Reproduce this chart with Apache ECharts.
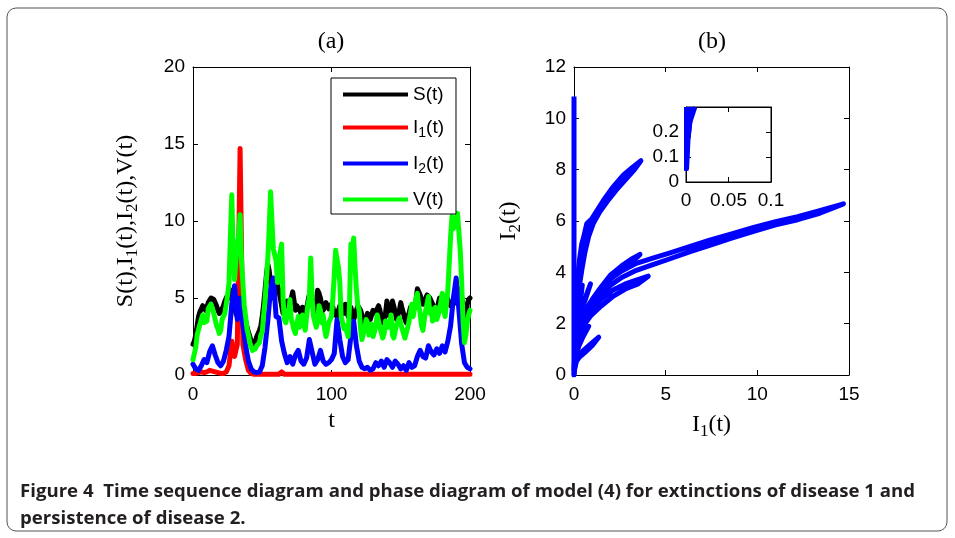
<!DOCTYPE html>
<html><head><meta charset="utf-8">
<script src="https://cdn.jsdelivr.net/npm/echarts@6.0.0/dist/echarts.min.js"></script>
<style>html,body{margin:0;padding:0;background:#fff}#c{width:955px;height:538px}</style>
</head><body><div id="c"></div>
<script>
// ---------- DATA ----------
// S and V sampled every 1 time unit, I1 and I2 every 2 time units (t = 0..200)
const fineStep = 1, coarseStep = 2, timeEnd = 200;
const S_values = [2.0,2.2,2.6,3.2,3.8,4.1,4.3,4.5,4.6,4.2,
4.4,4.7,4.8,5.0,5.1,4.9,4.8,4.5,4.2,4.0,
4.0,4.3,4.5,4.8,4.9,5.2,5.0,5.3,5.5,5.0,
4.5,4.0,3.8,4.5,5.0,4.8,4.6,4.0,3.5,3.1,
2.8,2.5,2.2,2.1,2.0,2.2,2.5,2.7,2.9,3.2,
3.8,4.6,5.5,6.5,7.2,6.8,6.0,5.4,5.0,5.6,
6.2,5.8,5.5,5.0,4.5,4.0,4.3,4.6,4.8,4.4,
4.5,5.0,5.4,4.8,4.2,4.5,4.6,4.2,4.0,4.4,
4.4,4.0,4.3,4.8,5.2,5.0,4.8,4.3,4.0,4.7,
5.5,5.3,5.0,4.5,4.2,4.4,4.7,4.5,4.3,4.2,
4.6,4.4,4.0,3.9,3.8,4.2,4.5,4.6,4.3,4.0,
4.6,4.3,3.8,4.0,4.4,4.0,3.6,3.9,4.2,4.5,
4.4,4.2,3.9,3.5,3.2,3.6,4.0,3.8,3.6,3.9,
4.2,4.1,4.0,4.3,4.5,4.2,3.7,3.4,3.6,4.0,
4.8,4.2,3.8,4.3,4.8,4.9,4.1,3.6,3.6,4.2,
4.7,4.3,4.0,3.6,3.4,3.8,4.0,4.4,4.4,4.1,
4.0,4.8,5.6,5.7,5.2,4.8,4.6,4.8,5.0,5.2,
5.3,5.0,4.8,4.6,4.4,4.3,4.2,4.6,5.0,5.1,
5.0,4.6,4.8,5.1,4.9,4.7,4.5,4.4,4.6,5.0,
5.0,4.7,4.9,5.6,5.6,4.5,3.0,3.6,4.6,4.9,
5.0];
const V_values = [1.0,1.4,1.8,2.6,2.5,3.3,3.6,3.9,3.4,3.5,
3.5,4.3,4.2,4.6,4.5,4.0,4.1,3.2,3.0,2.7,
2.9,3.6,3.5,4.0,3.9,5.2,6.0,9.0,11.7,8.0,
6.2,7.5,8.5,9.0,10.4,7.5,6.0,4.5,3.8,3.0,
2.6,2.1,1.8,1.6,1.5,1.7,1.9,2.0,2.1,2.6,
2.8,3.9,4.8,6.2,7.5,9.5,11.9,10.0,8.2,7.8,
7.4,6.0,7.0,8.0,8.5,5.0,3.6,3.4,4.2,3.8,
4.9,3.6,3.3,2.9,2.7,3.3,3.8,3.1,3.2,3.9,
3.5,2.9,3.8,4.6,5.0,7.6,5.0,3.8,3.8,3.1,
3.5,4.5,4.2,3.4,3.9,3.0,2.5,2.9,3.4,3.6,
3.8,5.0,6.5,8.1,7.5,7.0,6.0,3.8,3.8,3.0,
3.2,2.8,2.5,4.5,8.5,8.0,8.9,7.0,5.5,4.5,
4.2,3.0,2.3,2.7,3.0,3.6,3.4,2.6,2.8,3.3,
2.5,2.8,3.2,3.9,3.8,3.1,3.0,2.4,2.7,3.5,
3.6,3.1,3.4,3.9,2.6,2.4,2.5,3.3,3.2,3.7,
3.8,3.0,3.0,2.4,2.5,3.1,3.5,4.0,4.6,3.8,
4.4,5.0,5.3,4.5,4.0,3.2,2.9,3.6,4.2,4.6,
5.1,4.0,4.3,3.5,4.0,4.4,3.6,3.9,4.2,4.8,
5.3,4.2,3.8,4.6,5.5,5.6,9.0,10.3,9.5,9.8,
9.8,10.5,10.5,8.0,6.0,3.5,2.1,2.6,3.4,3.9,
4.2];
const I1_values = [0.1,0.1,0.15,0.2,0.15,0.2,0.3,0.25,0.2,0.15,0.1,0.1,0.2,0.6,2.2,1.2,2.0,14.7,2.0,1.0,0.3,0.1,0.05,0.05,0.05,0.05,0.05,0.05,0.05,0.05,0.05,0.05,0.2,0.05,0.05,0.05,0.05,0.05,0.05,0.05,0.05,0.05,0.05,0.05,0.05,0.05,0.05,0.05,0.05,0.05,0.05,0.05,0.05,0.05,0.05,0.05,0.05,0.05,0.05,0.05,0.05,0.05,0.05,0.05,0.05,0.05,0.05,0.05,0.05,0.05,0.05,0.05,0.05,0.05,0.05,0.05,0.05,0.05,0.05,0.05,0.05,0.05,0.05,0.05,0.05,0.05,0.05,0.05,0.05,0.05,0.05,0.05,0.05,0.05,0.05,0.05,0.05,0.05,0.05,0.05,0.05];
const I2_values = [0.7,0.4,0.3,0.6,1.0,0.8,1.5,1.9,1.3,0.8,0.6,0.9,1.6,2.5,4.6,5.8,3.6,5.0,3.3,1.9,0.9,0.4,0.2,0.15,0.2,0.6,1.8,3.5,5.6,6.3,3.8,3.7,2.2,1.4,0.8,1.2,0.7,1.3,1.6,0.9,0.7,1.1,2.3,1.5,0.7,1.0,1.6,0.9,0.7,0.8,1.0,1.4,3.6,2.3,1.2,0.8,1.0,2.5,3.5,1.9,0.9,0.5,0.4,0.5,0.3,0.4,0.8,0.6,0.9,0.5,1.0,0.8,0.5,0.9,0.7,0.4,0.6,0.3,0.8,0.5,0.6,1.2,1.6,1.2,1.1,1.9,1.5,1.3,1.7,1.4,1.9,1.5,2.2,3.2,5.0,6.3,4.2,2.0,0.8,0.5,0.4];

// phase diagram I1 vs I2 (trajectory pieces)
const phaseAxisLine = [[0,0],[0,10.85]];
const phaseUpper = [[0.02,2.2],[0.1,3.0],[0.2,3.8],[0.3,4.5],[0.42,5.1],[0.6,5.55],[0.85,5.95],[1.2,6.35],[1.6,6.8],[2.1,7.3],[2.7,7.8],[3.2,8.1],[3.65,8.35],[3.3,8.0],[2.8,7.6],[2.3,7.2],[1.8,6.75],[1.4,6.35],[1.05,5.9],[0.8,5.4],[0.6,4.8],[0.45,4.2],[0.3,3.5],[0.15,2.7],[0.05,2.0],[0.15,3.3],[0.3,4.3],[0.5,5.3],[0.7,5.9],[1.0,6.1],[1.4,6.5],[1.9,7.0],[2.4,7.5],[2.0,7.05],[1.5,6.55],[1.1,6.15],[0.7,5.6],[0.5,4.9],[0.35,3.9],[0.2,3.0],[0.05,1.6]];
const phaseLower = [[0.05,1.0],[0.2,1.6],[0.45,2.1],[0.75,2.55],[1.1,2.95],[1.5,3.35],[2.0,3.75],[2.6,4.05],[3.4,4.35],[4.3,4.55],[5.2,4.75],[6.3,5.0],[7.4,5.25],[8.6,5.5],[9.8,5.75],[11.0,5.97],[12.2,6.17],[13.4,6.4],[14.7,6.67],[13.4,6.3],[12.2,6.05],[11.0,5.85],[9.8,5.6],[8.6,5.33],[7.4,5.05],[6.3,4.8],[5.2,4.52],[4.3,4.3],[3.4,4.08],[2.6,3.8],[2.0,3.5],[1.5,3.1],[1.0,2.65],[0.6,2.2],[0.3,1.6],[0.08,0.8]];
const phaseLoopA = [[0.1,1.8],[0.5,2.4],[1.0,2.95],[1.5,3.45],[2.0,3.9],[2.6,4.25],[3.1,4.5],[3.6,4.7],[3.1,4.35],[2.5,4.05],[1.9,3.7],[1.4,3.3],[0.9,2.8],[0.4,2.2],[0.1,1.4]];
const phaseLoopB = [[0.2,2.0],[0.8,2.5],[1.4,2.9],[2.1,3.3],[2.8,3.55],[3.4,3.7],[4.05,3.85],[3.5,3.55],[2.8,3.35],[2.1,3.05],[1.5,2.7],[0.9,2.3],[0.3,1.7]];
const phaseSpikes = [[0.1,2.4],[0.4,2.6],[0.9,3.55],[0.6,2.9],[0.2,2.2]];
const phaseSmall = [[0.05,0.3],[0.2,0.7],[0.5,0.95],[0.9,1.2],[1.35,1.47],[1.0,1.15],[0.6,0.88],[0.3,0.7],[0.1,0.5]];
const phaseFan = [[0,0],[0.1,0.6],[0.25,1.1],[0.5,1.5],[0.8,1.9],[0.5,1.7],[0.2,1.3],[0.05,0.9],[0.0,0.2],[0.15,1.5],[0.3,2.5],[0.45,3.5],[0.3,3.0],[0.15,2.2],[0.05,1.2]];

// inset (zoom near origin)
const insetEdge0 = [[0,0.045],[0,0.3]];
const insetEdge1 = [[0.0006,0.045],[0.002,0.15],[0.004,0.3]];
const insetEdge2 = [[0.0012,0.05],[0.003,0.175],[0.0051,0.24],[0.0075,0.3]];
const insetEdge3 = [[0.003,0.175],[0.0051,0.24],[0.011,0.3]];

const seriesNames = ['S(t)','I1(t)','I2(t)','V(t)'];
const seriesColors = ['#000000','#ff0000','#0000ff','#00ff00'];
const captionLine1 = 'Figure 4  Time sequence diagram and phase diagram of model (4) for extinctions of disease 1 and';
const captionLine2 = 'persistence of disease 2.';

// ---------- BUILD ----------
const timesOf = step => { const a = []; for (let t = 0; t <= timeEnd; t += step) a.push(t); return a; };
const fineTimes = timesOf(fineStep), coarseTimes = timesOf(coarseStep);
const pair = (ts, vals) => vals.map((v, i) => [ts[i], v]);

const SANS = 'Liberation Sans', SERIF = 'Liberation Serif';
const tickFont = {fontFamily: SANS, fontSize: 19, color: '#000'};
function axisBase(extra) {
  return Object.assign({
    type: 'value',
    axisLine: {show: true, onZero: false, lineStyle: {color: '#000', width: 1}},
    axisTick: {show: true, inside: true, length: 5, lineStyle: {color: '#000'}},
    splitLine: {show: false},
    axisLabel: Object.assign({show: true}, tickFont)
  }, extra);
}
function mirror(extra) {
  return axisBase(Object.assign({axisLabel: {show: false}}, extra));
}
const subRich = {
  m: {fontFamily: SERIF, fontSize: 24, color: '#000'},
  s: {fontFamily: SERIF, fontSize: 17, color: '#000', padding: [14, 0, 0, 0], verticalAlign: 'top'}
};

const ctx = document.createElement('canvas').getContext('2d');
const capFont = 'bold 17px "Open Sans"';
ctx.font = capFont;
const capScale = 895 / ctx.measureText(captionLine1).width;

const tsData = [pair(fineTimes, S_values), pair(coarseTimes, I1_values), pair(coarseTimes, I2_values), pair(fineTimes, V_values)];
const lineSeries = tsData.map((d, i) => ({
  name: seriesNames[i], type: 'line', xAxisIndex: 0, yAxisIndex: 0,
  data: d, symbol: 'none', showSymbol: false,
  lineStyle: {color: seriesColors[i], width: 5, join: 'round', cap: 'round'},
  itemStyle: {color: seriesColors[i]}, z: 2 + i
}));
const phaseSeries = [phaseFan, phaseSmall, phaseSpikes, phaseLoopB, phaseLoopA, phaseLower, phaseUpper].map((d, i) => ({
  name: 'phase' + i, type: 'line', xAxisIndex: 2, yAxisIndex: 2, data: d,
  symbol: 'none', lineStyle: {color: '#0000ff', width: 5, join: 'round', cap: 'round'}, z: 3
}));
phaseSeries.push({
  name: 'phaseAxis', type: 'line', xAxisIndex: 2, yAxisIndex: 2, data: phaseAxisLine,
  symbol: 'none', lineStyle: {color: '#0000ff', width: 5}, z: 3
});
const insetSeries = [insetEdge0, insetEdge1, insetEdge2, insetEdge3].map((d, i) => ({
  name: 'inset' + i, type: 'line', xAxisIndex: 4, yAxisIndex: 4, data: d,
  symbol: 'none', lineStyle: {color: '#0000ff', width: 4}, z: 3
}));

const option = {
  animation: false,
  backgroundColor: '#fff',
  grid: [
    {left: 193, top: 67, width: 277, height: 308},
    {left: 574, top: 67, width: 275, height: 308},
    {left: 686, top: 107, width: 85, height: 75, show: true, borderColor: '#000', borderWidth: 1, backgroundColor: 'transparent'}
  ],
  xAxis: [
    axisBase({gridIndex: 0, min: 0, max: 200, interval: 100, axisLabel: Object.assign({margin: 10}, tickFont),
      name: 't', nameLocation: 'middle', nameGap: 34, nameTextStyle: {fontFamily: SERIF, fontSize: 24, color: '#000'}}),
    mirror({gridIndex: 0, position: 'top', min: 0, max: 200, interval: 100}),
    axisBase({gridIndex: 1, min: 0, max: 15, interval: 5, axisLabel: Object.assign({margin: 10}, tickFont),
      name: '{m|I}{s|1}{m|(t)}', nameLocation: 'middle', nameGap: 34, nameTextStyle: {rich: subRich}}),
    mirror({gridIndex: 1, position: 'top', min: 0, max: 15, interval: 5}),
    axisBase({gridIndex: 2, min: 0, max: 0.1, interval: 0.05, axisLabel: Object.assign({margin: 9}, tickFont)}),
    mirror({gridIndex: 2, position: 'top', min: 0, max: 0.1, interval: 0.05})
  ],
  yAxis: [
    axisBase({gridIndex: 0, min: 0, max: 20, interval: 5, axisLabel: Object.assign({margin: 8}, tickFont),
      name: '{m|S(t),I}{s|1}{m|(t),I}{s|2}{m|(t),V(t)}', nameLocation: 'middle', nameGap: 52, nameRotate: 90,
      nameTextStyle: {rich: subRich}}),
    mirror({gridIndex: 0, position: 'right', min: 0, max: 20, interval: 5}),
    axisBase({gridIndex: 1, min: 0, max: 12, interval: 2, axisLabel: Object.assign({margin: 8}, tickFont),
      name: '{m|I}{s|2}{m|(t)}', nameLocation: 'middle', nameGap: 50, nameRotate: 90,
      nameTextStyle: {rich: subRich}}),
    mirror({gridIndex: 1, position: 'right', min: 0, max: 12, interval: 2}),
    axisBase({gridIndex: 2, min: 0, max: 0.3, interval: 0.1,
      axisLabel: Object.assign({margin: 7, formatter: v => (v > 0.25 ? '' : String(+v.toFixed(2)))}, tickFont)}),
    mirror({gridIndex: 2, position: 'right', min: 0, max: 0.3, interval: 0.1})
  ],
  legend: {
    data: seriesNames, orient: 'vertical', left: 331, top: 78,
    icon: 'rect', itemWidth: 65, itemHeight: 4, itemGap: 14,
    padding: [7, 12, 5, 12], borderColor: '#000', borderWidth: 1, backgroundColor: '#fff', borderRadius: 0,
    selectedMode: false, z: 10,
    formatter: n => n.split(/(\d)/).map(p => /^\d$/.test(p) ? '{s|' + p + '}' : (p ? '{m|' + p + '}' : '')).join(''),
    textStyle: {rich: {
      m: {fontFamily: SANS, fontSize: 19, color: '#000'},
      s: {fontFamily: SANS, fontSize: 14, color: '#000', padding: [11, 0, 0, 0], verticalAlign: 'top'}
    }}
  },
  graphic: [
    {type: 'rect', shape: {x: 7, y: 8, width: 940, height: 523, r: 9}, style: {fill: 'none', stroke: '#555', lineWidth: 1}, z: -1},
    {type: 'text', x: 331, y: 42, style: {text: '(a)', font: '24px "Liberation Serif"', fill: '#000', align: 'center', verticalAlign: 'middle'}},
    {type: 'text', x: 712, y: 42, style: {text: '(b)', font: '24px "Liberation Serif"', fill: '#000', align: 'center', verticalAlign: 'middle'}},
    {type: 'text', x: 20, y: 492, scaleX: capScale, style: {text: captionLine1, font: capFont, fill: '#231f20', verticalAlign: 'middle'}},
    {type: 'text', x: 20, y: 519, scaleX: capScale, style: {text: captionLine2, font: capFont, fill: '#231f20', verticalAlign: 'middle'}}
  ],
  series: lineSeries.concat(phaseSeries, insetSeries)
};
const chart = echarts.init(document.getElementById('c'), null, {renderer: 'canvas'});
chart.setOption(option);
</script>
</body></html>
